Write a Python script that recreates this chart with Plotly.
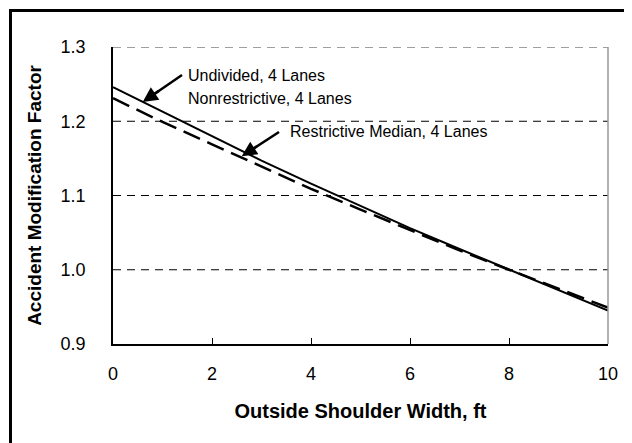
import plotly.graph_objects as go

width_ft = [0, 1, 2, 3, 4, 5, 6, 7, 8, 9, 10]
amf_undivided = [1.246, 1.213, 1.179, 1.147, 1.116, 1.086, 1.056, 1.028, 1.000, 0.973, 0.945]
amf_restrictive = [1.231, 1.199, 1.169, 1.139, 1.109, 1.081, 1.053, 1.026, 1.000, 0.974, 0.949]

x_ticks = [0, 2, 4, 6, 8, 10]
y_ticks = [0.9, 1.0, 1.1, 1.2, 1.3]
y_tick_text = ["0.9", "1.0", "1.1", "1.2", "1.3"]

FONT = "Liberation Sans, Arial, sans-serif"

fig = go.Figure()
fig.add_trace(go.Scatter(x=width_ft, y=amf_undivided, mode="lines",
                         line=dict(color="black", width=2), showlegend=False,
                         hoverinfo="skip"))
fig.add_trace(go.Scatter(x=width_ft, y=amf_restrictive, mode="lines",
                         line=dict(color="black", width=2.5, dash="18px,8px"),
                         showlegend=False, hoverinfo="skip"))

# page body adds an 8px offset; the figure occupies page coords 8..632 x 8..443
OFF = 8
W, H = 632 - OFF, 443 - OFF
L, R, T, B = 113 - OFF, 24, 47 - OFF, 99
pw, ph = W - L - R, H - T - B

def px(xp):  # page x -> paper
    return (xp - OFF - L) / pw

def py(yp):  # page y -> paper
    return (H - B - (yp - OFF)) / ph

shapes = []
for yv in [1.0, 1.1, 1.2]:
    shapes.append(dict(type="line", xref="paper", yref="y", x0=0, x1=1, y0=yv, y1=yv,
                       line=dict(color="black", width=1, dash="8px,6px"), layer="below"))
shapes.append(dict(type="line", xref="paper", yref="y", x0=0, x1=1, y0=1.3, y1=1.3,
                   line=dict(color="#808080", width=1.5, dash="8px,6px"), layer="below"))
shapes.append(dict(type="line", xref="paper", yref="paper", x0=1, x1=1, y0=0, y1=1,
                   line=dict(color="#999999", width=1.5)))
# outer frame
shapes.append(dict(type="rect", xref="paper", yref="paper",
                   x0=px(10.5), x1=px(650), y0=py(10.5), y1=py(460),
                   line=dict(color="black", width=3)))

# callout arrows: tail in page pixels, tip in data coordinates
callouts = [
    dict(tail=(182, 75), tip=(0.6, 1.226)),
    dict(tail=(279, 132), tip=(2.6, 1.153)),
]

annotations = []
for c in callouts:
    tx, ty = c["tail"]
    hx_px = L + OFF + c["tip"][0] / 10 * pw
    hy_px = T + OFF + (1.3 - c["tip"][1]) / 0.4 * ph
    # shaft (stop just short of the tip so the head stays sharp)
    fx = hx_px + (tx - hx_px) * 0.25
    fy = hy_px + (ty - hy_px) * 0.25
    shapes.append(dict(type="line", xref="paper", yref="paper",
                       x0=px(tx), y0=py(ty), x1=px(fx), y1=py(fy),
                       line=dict(color="black", width=2.5)))
    annotations.append(dict(x=c["tip"][0], y=c["tip"][1], xref="x", yref="y",
                            ax=(tx - hx_px) * 0.45, ay=(ty - hy_px) * 0.45,
                            axref="pixel", ayref="pixel", text="", showarrow=True,
                            arrowhead=2, arrowsize=1.2, arrowwidth=2.5, arrowcolor="black",
                            standoff=0))

annotations += [
    dict(x=px(186), y=py(75), xref="paper", yref="paper", xanchor="left", yanchor="middle",
         text="Undivided, 4 Lanes", showarrow=False, font=dict(size=16, color="black", family=FONT)),
    dict(x=px(186), y=py(98), xref="paper", yref="paper", xanchor="left", yanchor="middle",
         text="Nonrestrictive, 4 Lanes", showarrow=False, font=dict(size=16, color="black", family=FONT)),
    dict(x=px(288), y=py(131), xref="paper", yref="paper", xanchor="left", yanchor="middle",
         text="Restrictive Median, 4 Lanes", showarrow=False, font=dict(size=16, color="black", family=FONT)),
]

fig.update_layout(
    width=W, height=H,
    margin=dict(l=L, r=R, t=T, b=B, pad=0),
    paper_bgcolor="white", plot_bgcolor="white",
    font=dict(family=FONT, size=18, color="black"),
    shapes=shapes, annotations=annotations,
    xaxis=dict(range=[0, 10], tickvals=x_ticks, ticks="inside", ticklen=6, tickwidth=1,
               tickcolor="black", showgrid=False, zeroline=False, showline=True,
               linecolor="black", linewidth=1.5, ticklabelstandoff=13,
               title=dict(text="<b>Outside Shoulder Width, ft</b>", font=dict(size=20), standoff=21),
               fixedrange=True),
    yaxis=dict(range=[0.9, 1.3], tickvals=y_ticks, ticktext=y_tick_text, ticks="",
               showgrid=False, zeroline=False, showline=True, linecolor="black", linewidth=1.5,
               ticklabelstandoff=22,
               title=dict(text="<b>Accident Modification Factor</b>", font=dict(size=19), standoff=14),
               fixedrange=True),
)

fig.write_html("out.html")
